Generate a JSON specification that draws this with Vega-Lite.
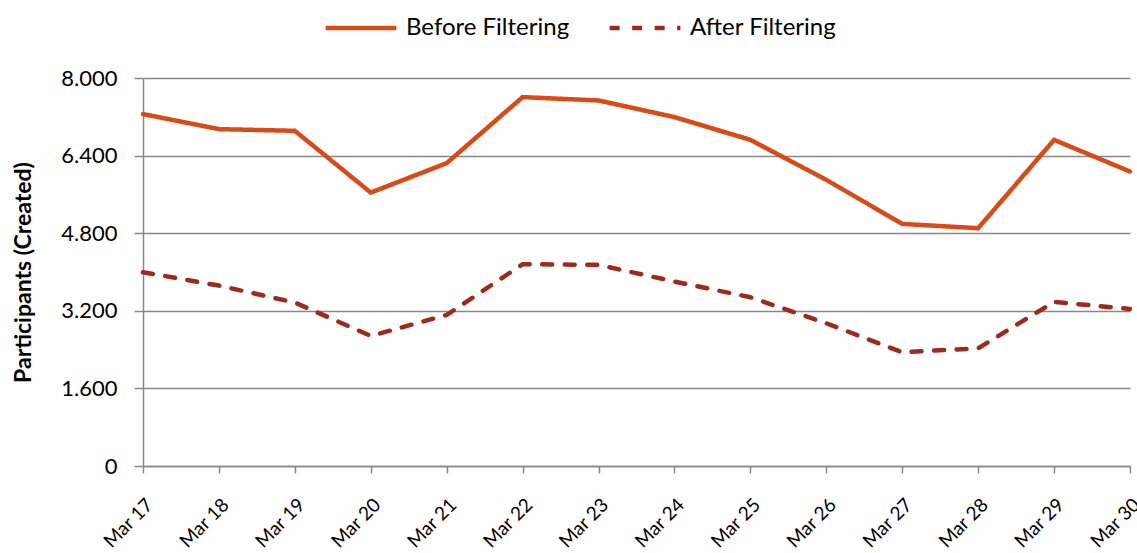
{
  "$schema": "https://vega.github.io/schema/vega-lite/v6.json",
  "width": 987,
  "height": 388,
  "autosize": "none",
  "padding": {"left": 143, "top": 78, "right": 7, "bottom": 87},
  "background": "white",
  "data": {
    "values": [
      {"date": "Mar 17", "series": "Before Filtering", "value": 7256},
      {"date": "Mar 18", "series": "Before Filtering", "value": 6946},
      {"date": "Mar 19", "series": "Before Filtering", "value": 6911},
      {"date": "Mar 20", "series": "Before Filtering", "value": 5638},
      {"date": "Mar 21", "series": "Before Filtering", "value": 6245},
      {"date": "Mar 22", "series": "Before Filtering", "value": 7606},
      {"date": "Mar 23", "series": "Before Filtering", "value": 7537},
      {"date": "Mar 24", "series": "Before Filtering", "value": 7193},
      {"date": "Mar 25", "series": "Before Filtering", "value": 6725},
      {"date": "Mar 26", "series": "Before Filtering", "value": 5900},
      {"date": "Mar 27", "series": "Before Filtering", "value": 4992},
      {"date": "Mar 28", "series": "Before Filtering", "value": 4903},
      {"date": "Mar 29", "series": "Before Filtering", "value": 6725},
      {"date": "Mar 30", "series": "Before Filtering", "value": 6072},
      {"date": "Mar 17", "series": "After Filtering", "value": 3996},
      {"date": "Mar 18", "series": "After Filtering", "value": 3720},
      {"date": "Mar 19", "series": "After Filtering", "value": 3370},
      {"date": "Mar 20", "series": "After Filtering", "value": 2682},
      {"date": "Mar 21", "series": "After Filtering", "value": 3115},
      {"date": "Mar 22", "series": "After Filtering", "value": 4161},
      {"date": "Mar 23", "series": "After Filtering", "value": 4147},
      {"date": "Mar 24", "series": "After Filtering", "value": 3803},
      {"date": "Mar 25", "series": "After Filtering", "value": 3480},
      {"date": "Mar 26", "series": "After Filtering", "value": 2943},
      {"date": "Mar 27", "series": "After Filtering", "value": 2345},
      {"date": "Mar 28", "series": "After Filtering", "value": 2427},
      {"date": "Mar 29", "series": "After Filtering", "value": 3383},
      {"date": "Mar 30", "series": "After Filtering", "value": 3239}
    ]
  },
  "mark": {"type": "line", "strokeWidth": 4.5, "strokeCap": "round", "strokeJoin": "miter"},
  "encoding": {
    "x": {
      "field": "date",
      "type": "ordinal",
      "scale": {"type": "point", "padding": 0},
      "sort": null,
      "axis": {
        "title": null,
        "labelAngle": -45,
        "labelFontSize": 19,
        "labelColor": "black",
        "labelFont": "Lato",
        "domainColor": "#888888",
        "domainWidth": 1.5,
        "tickColor": "#888888",
        "tickWidth": 1.5,
        "tickSize": 7,
        "labelPadding": 22,
        "labelOverlap": false,
        "grid": false
      }
    },
    "y": {
      "field": "value",
      "type": "quantitative",
      "scale": {"domain": [0, 8000], "nice": false},
      "axis": {
        "values": [0, 1600, 3200, 4800, 6400, 8000],
        "labelExpr": "replace(format(datum.value, ','), ',', '.')",
        "title": "Participants (Created)",
        "titleFontSize": 23,
        "titleFont": "Lato",
        "titleFontWeight": "bold",
        "titleColor": "black",
        "titlePadding": 25,
        "labelFontSize": 22,
        "labelFont": "Lato",
        "labelColor": "black",
        "labelPadding": 17,
        "domainColor": "#888888",
        "domainWidth": 1.5,
        "tickColor": "#888888",
        "tickWidth": 1.5,
        "tickSize": 9,
        "gridColor": "#888888",
        "gridWidth": 1.5
      }
    },
    "color": {
      "field": "series",
      "type": "nominal",
      "sort": ["Before Filtering", "After Filtering"],
      "scale": {"domain": ["Before Filtering", "After Filtering"], "range": ["#D84B16", "#9C2A1E"]},
      "legend": {
        "title": null,
        "orient": "none",
        "direction": "horizontal",
        "legendX": 180,
        "legendY": -88,
        "labelFontSize": 24,
        "labelFont": "Lato",
        "labelColor": "black",
        "labelLimit": 400,
        "symbolType": "stroke",
        "symbolSize": 5000,
        "symbolStrokeWidth": 4.5,
        "columnPadding": 30,
        "labelOffset": 7
      }
    },
    "strokeDash": {
      "field": "series",
      "type": "nominal",
      "sort": ["Before Filtering", "After Filtering"],
      "scale": {"domain": ["Before Filtering", "After Filtering"], "range": [[1, 0], [10, 12.5]]},
      "legend": null
    }
  },
  "config": {"view": {"stroke": null}}
}
